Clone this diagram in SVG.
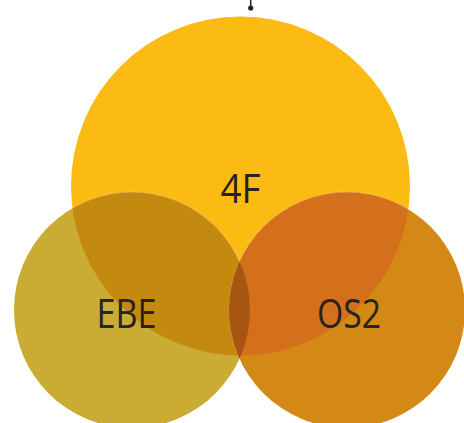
<svg xmlns="http://www.w3.org/2000/svg" width="464" height="423" viewBox="0 0 464 423">
<style>
.lbl{font-family:"Open Sans","Lato","Liberation Sans",sans-serif;font-weight:400;font-size:40px;fill:#262322;text-anchor:middle}
.edge{stroke:#ffffff;stroke-opacity:0.25;stroke-width:1}
</style>
<defs>
<clipPath id="cBig"><circle cx="240.5" cy="186" r="169.5"/></clipPath>
<clipPath id="cLeft"><circle cx="132" cy="310" r="118"/></clipPath>
<clipPath id="cRight"><circle cx="347" cy="310" r="118"/></clipPath>
</defs>
<g id="node-4F">
<circle cx="240.5" cy="186" r="169.5" fill="#FCBB13"/>
</g>
<g id="node-EBE">
<circle cx="132" cy="310" r="118" fill="#CAAB33"/>
</g>
<g id="node-OS2">
<circle cx="347" cy="310" r="118" fill="#D48816"/>
</g>
<g id="overlaps">
<g clip-path="url(#cBig)"><circle cx="132" cy="310" r="118" fill="#C4890F" class="edge"/></g>
<g clip-path="url(#cBig)"><circle cx="347" cy="310" r="118" fill="#D4701C" class="edge"/></g>
<g clip-path="url(#cLeft)"><circle cx="347" cy="310" r="118" fill="#A85511"/></g>
</g>
<g id="connectors">
<line x1="250.7" y1="0" x2="250.7" y2="8" stroke="#222" stroke-width="1.5"/>
<circle cx="250.7" cy="8" r="2.6" fill="#222"/>
</g>
<g id="labels">
<text class="lbl" x="240.5" y="202.5" textLength="40" lengthAdjust="spacingAndGlyphs">4F</text>
<text class="lbl" x="126.5" y="327.5" textLength="60" lengthAdjust="spacingAndGlyphs">EBE</text>
<text class="lbl" x="349" y="327.5" textLength="64" lengthAdjust="spacingAndGlyphs">OS2</text>
</g>
</svg>
